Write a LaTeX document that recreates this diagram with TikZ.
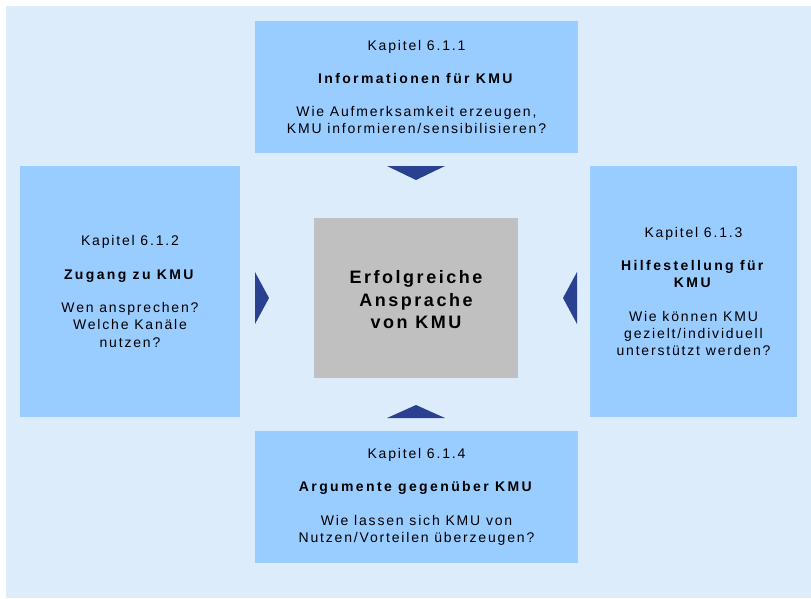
\documentclass[tikz,border=0pt]{standalone}
\usepackage{fontspec}
\setmainfont{Liberation Sans}
\newfontfamily\bxfont[LetterSpace=13,BoldFeatures={LetterSpace=17}]{Liberation Sans}
\newfontfamily\corefont[LetterSpace=15,BoldFeatures={LetterSpace=14}]{Liberation Sans}
\definecolor{bgblue}{RGB}{220,236,250}
\definecolor{boxblue}{RGB}{153,204,255}
\definecolor{midgray}{RGB}{192,192,192}
\definecolor{arrowblue}{RGB}{42,64,145}
\begin{document}
\begin{tikzpicture}[x=1pt,y=-1pt,
  chap/.style={fill=boxblue, inner sep=0pt, align=center, text=black,
    font=\bxfont\fontsize{14}{17.3}\selectfont},
  core/.style={fill=midgray, inner sep=0pt},
  coretext/.style={inner sep=0pt, align=center, text=black, yshift=-2pt,
    font=\corefont\bfseries\fontsize{18}{22.5}\selectfont},
  tri/.style={fill=arrowblue}]
\useasboundingbox (0,0) rectangle (811,598);
\fill[bgblue] (6,6) rectangle (811,598);

\node[chap, minimum width=323pt, minimum height=132pt] (top) at (416.5,87)
  {Kapitel 6.1.1\\[16pt]\textbf{Informationen für KMU}\\[16pt]Wie Aufmerksamkeit erzeugen,\\KMU informieren/sensibilisieren?};
\node[chap, minimum width=220pt, minimum height=251pt] (left) at (130,291.5)
  {Kapitel 6.1.2\\[16pt]\textbf{Zugang zu KMU}\\[16pt]Wen ansprechen?\\Welche Kanäle\\nutzen?};
\node[chap, minimum width=207pt, minimum height=251pt] (right) at (693.5,291.5)
  {Kapitel 6.1.3\\[16pt]\textbf{Hilfestellung für}\\\textbf{KMU}\\[16pt]Wie können KMU\\gezielt/individuell\\unterstützt werden?};
\node[chap, minimum width=323pt, minimum height=132pt] (bottom) at (416.5,497)
  {Kapitel 6.1.4\\[16pt]\textbf{Argumente gegenüber KMU}\\[16pt]Wie lassen sich KMU von\\Nutzen/Vorteilen überzeugen?};
\node[core, minimum width=204pt, minimum height=160pt,
  label={[coretext]center:Erfolgreiche\\Ansprache\\von KMU}] (center) at (416,298) {};

\fill[tri] (387,166) -- (445,166) -- (416,180) -- cycle;
\fill[tri] (387,418) -- (445,418) -- (416,405) -- cycle;
\fill[tri] (255,272) -- (255,324) -- (269,298) -- cycle;
\fill[tri] (577,272) -- (577,324) -- (563,298) -- cycle;
\end{tikzpicture}
\end{document}
